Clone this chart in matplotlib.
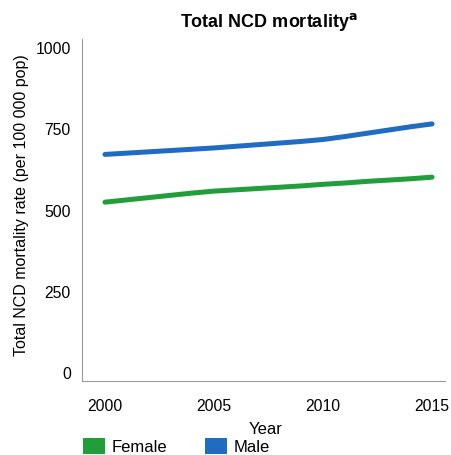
import matplotlib.pyplot as plt
from matplotlib.patches import Patch

plt.rcParams['font.family'] = ['Liberation Sans', 'DejaVu Sans']

# Total NCD mortality rate (per 100 000 pop)
years = list(range(2000, 2016))
female = [523, 530, 537, 544, 551, 557, 561, 565, 569, 573, 578, 582, 587, 591, 595, 600]
male = [670, 674, 678, 682, 686, 690, 695, 700, 705, 710, 716, 725, 735, 745, 755, 764]

green = "#1f9e3a"
blue = "#1f6cc0"

fig = plt.figure(figsize=(4.51, 4.56), dpi=100)
ax = fig.add_axes([0.182, 0.162, 0.805, 0.75])

ax.plot(years, female, color=green, lw=3.6, solid_capstyle="round")
ax.plot(years, male, color=blue, lw=3.6, solid_capstyle="round")

ax.set_xlim(1998.95, 2015.6)
ax.set_ylim(-28, 1025)
ax.set_xticks([2000, 2005, 2010, 2015])
ax.set_yticks([0, 250, 500, 750, 1000])
ax.tick_params(length=0, labelsize=11.3, pad=8)
ax.tick_params(axis="x", pad=12)

for s in ["top", "right"]:
    ax.spines[s].set_visible(False)
for s in ["left", "bottom"]:
    ax.spines[s].set_color("#999999")
    ax.spines[s].set_linewidth(0.8)

fig.text(0.595, 0.952, "Total NCD mortality$^{\\mathbf{a}}$", ha="center", va="center",
         fontsize=13, fontweight="bold")
fig.text(0.048, 0.55, "Total NCD mortality rate (per 100 000 pop)", rotation=90,
         ha="center", va="center", fontsize=11.5)
fig.text(0.59, 0.058, "Year", ha="center", va="center", fontsize=12)

handles = [Patch(facecolor=green, label="Female"), Patch(facecolor=blue, label="Male")]
fig.legend(handles=handles, loc="center left", bbox_to_anchor=(0.184, 0.02), ncol=2,
           frameon=False, fontsize=12, handlelength=1.3, handleheight=1.1,
           columnspacing=2.3, handletextpad=0.4, borderpad=0, borderaxespad=0)

plt.savefig("out.png", dpi=100)
